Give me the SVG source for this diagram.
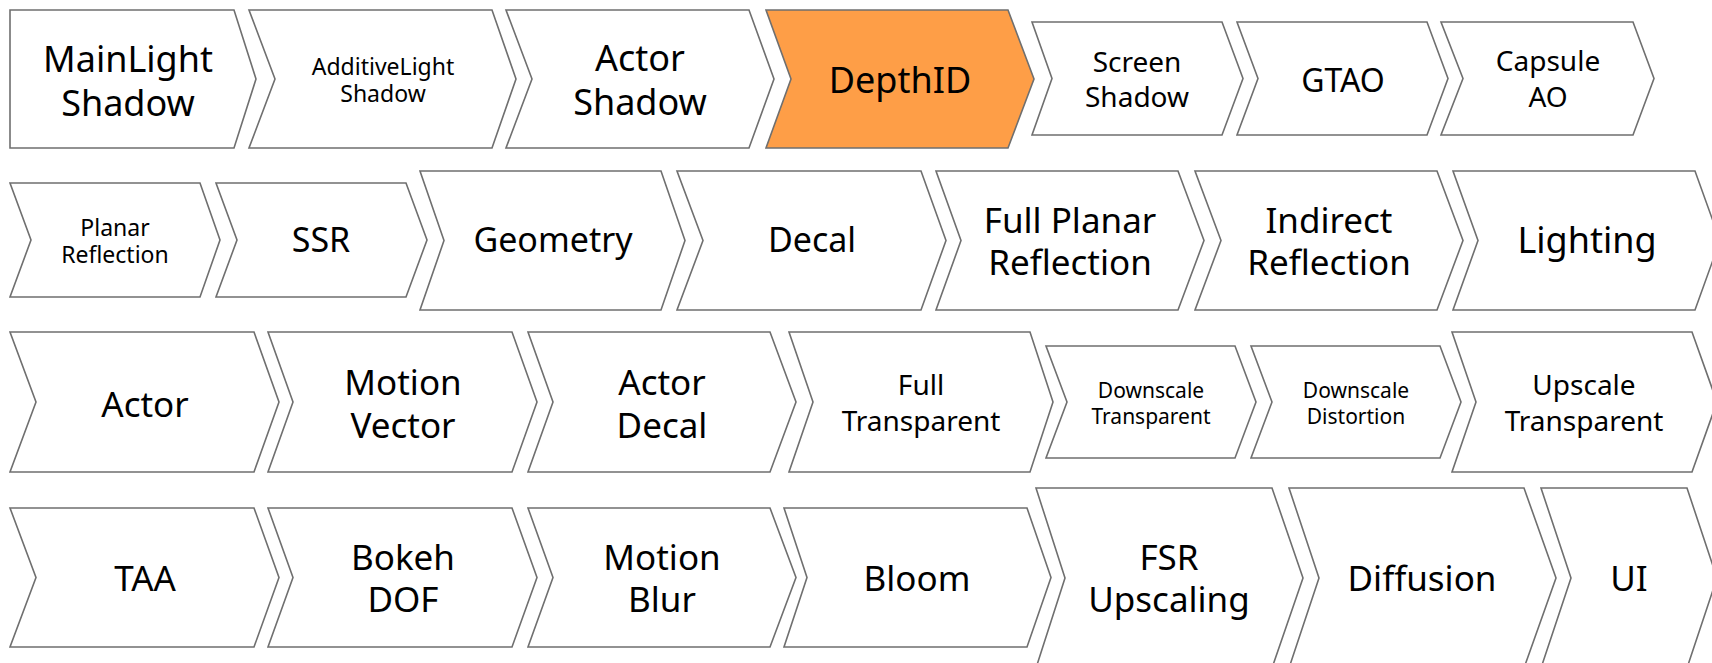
<svg xmlns="http://www.w3.org/2000/svg" width="1712" height="663" viewBox="0 0 1712 663">
<style>
.s{fill:#ffffff;stroke:#6f6f6f;stroke-width:1.6;stroke-linejoin:miter}
.hl{fill:#fe9e47}
text{font-family:"Noto Sans","Open Sans","DejaVu Sans",sans-serif;fill:#000;text-anchor:middle}
.xl{font-size:36px}
.l{font-size:35px}
.m{font-size:34px}
.g{font-size:32px}
.md{font-size:28px}
.sm{font-size:23px}
.xs{font-size:21px}
</style>
<rect width="1712" height="663" fill="#ffffff"/>
<g id="connectors"></g>

<!-- Row 1 -->
<g id="n-mainlight-shadow"><path class="s" d="M10,10 L234,10 L256,79 L234,148 L10,148 Z"/>
<text class="xl"><tspan x="128" y="72">MainLight</tspan><tspan x="128" y="116">Shadow</tspan></text></g>
<g id="n-additivelight-shadow"><path class="s" d="M249,10 L492,10 L516,79 L492,148 L249,148 L275,79 Z"/>
<text class="sm"><tspan x="383" y="75">AdditiveLight</tspan><tspan x="383" y="102">Shadow</tspan></text></g>
<g id="n-actor-shadow"><path class="s" d="M506,10 L749,10 L774,79 L749,148 L506,148 L532,79 Z"/>
<text class="xl"><tspan x="640" y="71">Actor</tspan><tspan x="640" y="115">Shadow</tspan></text></g>
<g id="n-depthid"><path class="s hl" d="M766,10 L1008,10 L1034,79 L1008,148 L766,148 L791,79 Z"/>
<text class="xl" x="900" y="93">DepthID</text></g>
<g id="n-screen-shadow"><path class="s" d="M1032,22 L1222,22 L1243,78.5 L1222,135 L1032,135 L1052,78.5 Z"/>
<text class="md"><tspan x="1137" y="72">Screen</tspan><tspan x="1137" y="107">Shadow</tspan></text></g>
<g id="n-gtao"><path class="s" d="M1237,22 L1427,22 L1448,78.5 L1427,135 L1237,135 L1258,78.5 Z"/>
<text class="g" x="1343" y="91.5">GTAO</text></g>
<g id="n-capsule-ao"><path class="s" d="M1441,22 L1633,22 L1654,78.5 L1633,135 L1441,135 L1463,78.5 Z"/>
<text class="md"><tspan x="1548" y="71">Capsule</tspan><tspan x="1548" y="107">AO</tspan></text></g>

<!-- Row 2 -->
<g id="n-planar-reflection"><path class="s" d="M10,183 L200,183 L220,240 L200,297 L10,297 L31,240 Z"/>
<text class="sm"><tspan x="115" y="236">Planar</tspan><tspan x="115" y="263">Reflection</tspan></text></g>
<g id="n-ssr"><path class="s" d="M216,183 L406,183 L427,240 L406,297 L216,297 L237,240 Z"/>
<text class="m" x="321" y="252">SSR</text></g>
<g id="n-geometry"><path class="s" d="M420,171 L661,171 L685,240.5 L661,310 L420,310 L444,240.5 Z"/>
<text class="m" x="553" y="252">Geometry</text></g>
<g id="n-decal"><path class="s" d="M677,171 L921,171 L946,240.5 L921,310 L677,310 L703,240.5 Z"/>
<text class="m" x="812" y="252">Decal</text></g>
<g id="n-full-planar-reflection"><path class="s" d="M936,171 L1178,171 L1204,240.5 L1178,310 L936,310 L961,240.5 Z"/>
<text class="l"><tspan x="1070" y="232.5">Full Planar</tspan><tspan x="1070" y="274.5">Reflection</tspan></text></g>
<g id="n-indirect-reflection"><path class="s" d="M1195,171 L1437,171 L1463,240.5 L1437,310 L1195,310 L1221,240.5 Z"/>
<text class="l"><tspan x="1329" y="232.5">Indirect</tspan><tspan x="1329" y="274.5">Reflection</tspan></text></g>
<g id="n-lighting"><path class="s" d="M1453,171 L1695,171 L1720,240.5 L1695,310 L1453,310 L1478,240.5 Z"/>
<text class="xl" x="1587" y="253">Lighting</text></g>

<!-- Row 3 -->
<g id="n-actor"><path class="s" d="M10,332 L254,332 L279,402 L254,472 L10,472 L36,402 Z"/>
<text class="l" x="145" y="416.5">Actor</text></g>
<g id="n-motion-vector"><path class="s" d="M268,332 L512,332 L537,402 L512,472 L268,472 L293,402 Z"/>
<text class="l"><tspan x="403" y="394.5">Motion</tspan><tspan x="403" y="437.5">Vector</tspan></text></g>
<g id="n-actor-decal"><path class="s" d="M528,332 L770,332 L796,402 L770,472 L528,472 L553,402 Z"/>
<text class="l"><tspan x="662" y="394.5">Actor</tspan><tspan x="662" y="437.5">Decal</tspan></text></g>
<g id="n-full-transparent"><path class="s" d="M789,332 L1030,332 L1053,402 L1030,472 L789,472 L813,402 Z"/>
<text class="md"><tspan x="921" y="395">Full</tspan><tspan x="921" y="431">Transparent</tspan></text></g>
<g id="n-downscale-transparent"><path class="s" d="M1046,346 L1235,346 L1256,402 L1235,458 L1046,458 L1067,402 Z"/>
<text class="xs"><tspan x="1151" y="397.5">Downscale</tspan><tspan x="1151" y="423.5">Transparent</tspan></text></g>
<g id="n-downscale-distortion"><path class="s" d="M1251,346 L1440,346 L1461,402 L1440,458 L1251,458 L1272,402 Z"/>
<text class="xs"><tspan x="1356" y="397.5">Downscale</tspan><tspan x="1356" y="423.5">Distortion</tspan></text></g>
<g id="n-upscale-transparent"><path class="s" d="M1452,332 L1692,332 L1717,402 L1692,472 L1452,472 L1476,402 Z"/>
<text class="md"><tspan x="1584" y="395">Upscale</tspan><tspan x="1584" y="431">Transparent</tspan></text></g>

<!-- Row 4 -->
<g id="n-taa"><path class="s" d="M10,508 L254,508 L279,577.5 L254,647 L10,647 L36,577.5 Z"/>
<text class="l" x="145" y="590.5">TAA</text></g>
<g id="n-bokeh-dof"><path class="s" d="M268,508 L512,508 L537,577.5 L512,647 L268,647 L293,577.5 Z"/>
<text class="l"><tspan x="403" y="569.5">Bokeh</tspan><tspan x="403" y="611.5">DOF</tspan></text></g>
<g id="n-motion-blur"><path class="s" d="M528,508 L770,508 L796,577.5 L770,647 L528,647 L553,577.5 Z"/>
<text class="l"><tspan x="662" y="569.5">Motion</tspan><tspan x="662" y="611.5">Blur</tspan></text></g>
<g id="n-bloom"><path class="s" d="M784,508 L1027,508 L1051,577.5 L1027,647 L784,647 L807,577.5 Z"/>
<text class="l" x="917" y="590.5">Bloom</text></g>
<g id="n-fsr-upscaling"><path class="s" d="M1036,488 L1272,488 L1303,578 L1272,668 L1036,668 L1065,578 Z"/>
<text class="l"><tspan x="1169" y="569.5">FSR</tspan><tspan x="1169" y="611.5">Upscaling</tspan></text></g>
<g id="n-diffusion"><path class="s" d="M1289,488 L1524,488 L1556,578 L1524,668 L1289,668 L1319,578 Z"/>
<text class="l" x="1422" y="590.5">Diffusion</text></g>
<g id="n-ui"><path class="s" d="M1541,488 L1687,488 L1717,578 L1687,668 L1541,668 L1571,578 Z"/>
<text class="l" x="1629" y="590.5">UI</text></g>
</svg>
